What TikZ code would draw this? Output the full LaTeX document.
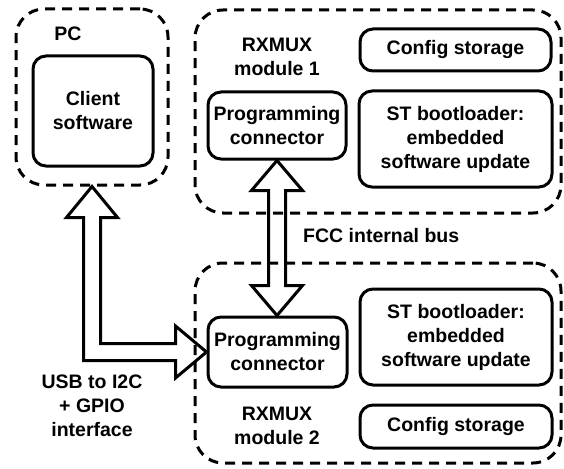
\documentclass[tikz,border=0pt]{standalone}
\usepackage{fontspec}
\setmainfont{Liberation Sans}
\usetikzlibrary{calc}
\begin{document}
\begin{tikzpicture}[x=1pt,y=-1pt,
  every node/.style={font=\fontsize{19.5}{24}\selectfont\bfseries, align=center, inner sep=0pt},
  solidbox/.style={draw, line width=3pt, rounded corners=13pt},
  groupbox/.style={draw, line width=3pt, dash pattern=on 10pt off 7pt, rounded corners=28pt},
  hollow/.style={draw, line width=3pt, line join=miter}]
\useasboundingbox (0,0) rectangle (564,468);
% containers
\node[groupbox, minimum width=152pt, minimum height=176pt] (pcbox) at (92,97) {};
\node[groupbox, minimum width=366pt, minimum height=203pt] (m1) at (378,111.5) {};
\node[groupbox, minimum width=366pt, minimum height=200pt] (m2) at (378,363) {};
% labels
\node (pclbl) at (68,34) {PC};
\node (rx1) at (277,57) {RXMUX\\module 1};
\node (rx2) at (277,426) {RXMUX\\module 2};
\node[anchor=west] (fcc) at (303,236) {FCC internal bus};
\node (usb) at (92,406) {USB to I2C\\+ GPIO\\interface};
% boxes
\node[solidbox, minimum width=120pt, minimum height=110pt] (client) at (93,111) {Client\\software};
\node[solidbox, minimum width=191pt, minimum height=42pt] (cfg1) at (455.5,50) {Config storage};
\node[solidbox, minimum width=193pt, minimum height=96pt] (st1) at (455.5,139) {ST bootloader:\\embedded\\software update};
\node[solidbox, minimum width=138pt, minimum height=67pt] (pc1) at (277,125.5) {Programming\\connector};
\node[solidbox, minimum width=139pt, minimum height=70pt] (pc2) at (277.5,352) {Programming\\connector};
\node[solidbox, minimum width=192pt, minimum height=96pt] (st2) at (456,337) {ST bootloader:\\embedded\\software update};
\node[solidbox, minimum width=192pt, minimum height=43pt] (cfg2) at (456,426.5) {Config storage};
% vertical double arrow between programming connectors
\coordinate (va) at (pc1.south);
\coordinate (vb) at (pc1.south |- pc2.north);
\draw[hollow] (va) -- ($(va)+(25.5,30)$) -- ($(va)+(8.5,30)$) -- ($(vb)+(8.5,-30)$)
  -- ($(vb)+(25.5,-30)$) -- (vb) -- ($(vb)+(-25.5,-30)$) -- ($(vb)+(-8.5,-30)$)
  -- ($(va)+(-8.5,30)$) -- ($(va)+(-25.5,30)$) -- cycle;
% L-shaped double arrow from PC to programming connector 2
\coordinate (la) at (pcbox.south);
\coordinate (lb) at (pc2.west);
\coordinate (lc) at (la |- lb);
\draw[hollow] (la) -- ($(la)+(25.5,31)$) -- ($(la)+(8.5,31)$) -- ($(lc)+(8.5,-8.5)$)
  -- ($(lb)+(-31,-8.5)$) -- ($(lb)+(-31,-26)$) -- (lb) -- ($(lb)+(-31,26)$)
  -- ($(lb)+(-31,8.5)$) -- ($(lc)+(-8.5,8.5)$) -- ($(la)+(-8.5,31)$)
  -- ($(la)+(-25.5,31)$) -- cycle;
\end{tikzpicture}
\end{document}
